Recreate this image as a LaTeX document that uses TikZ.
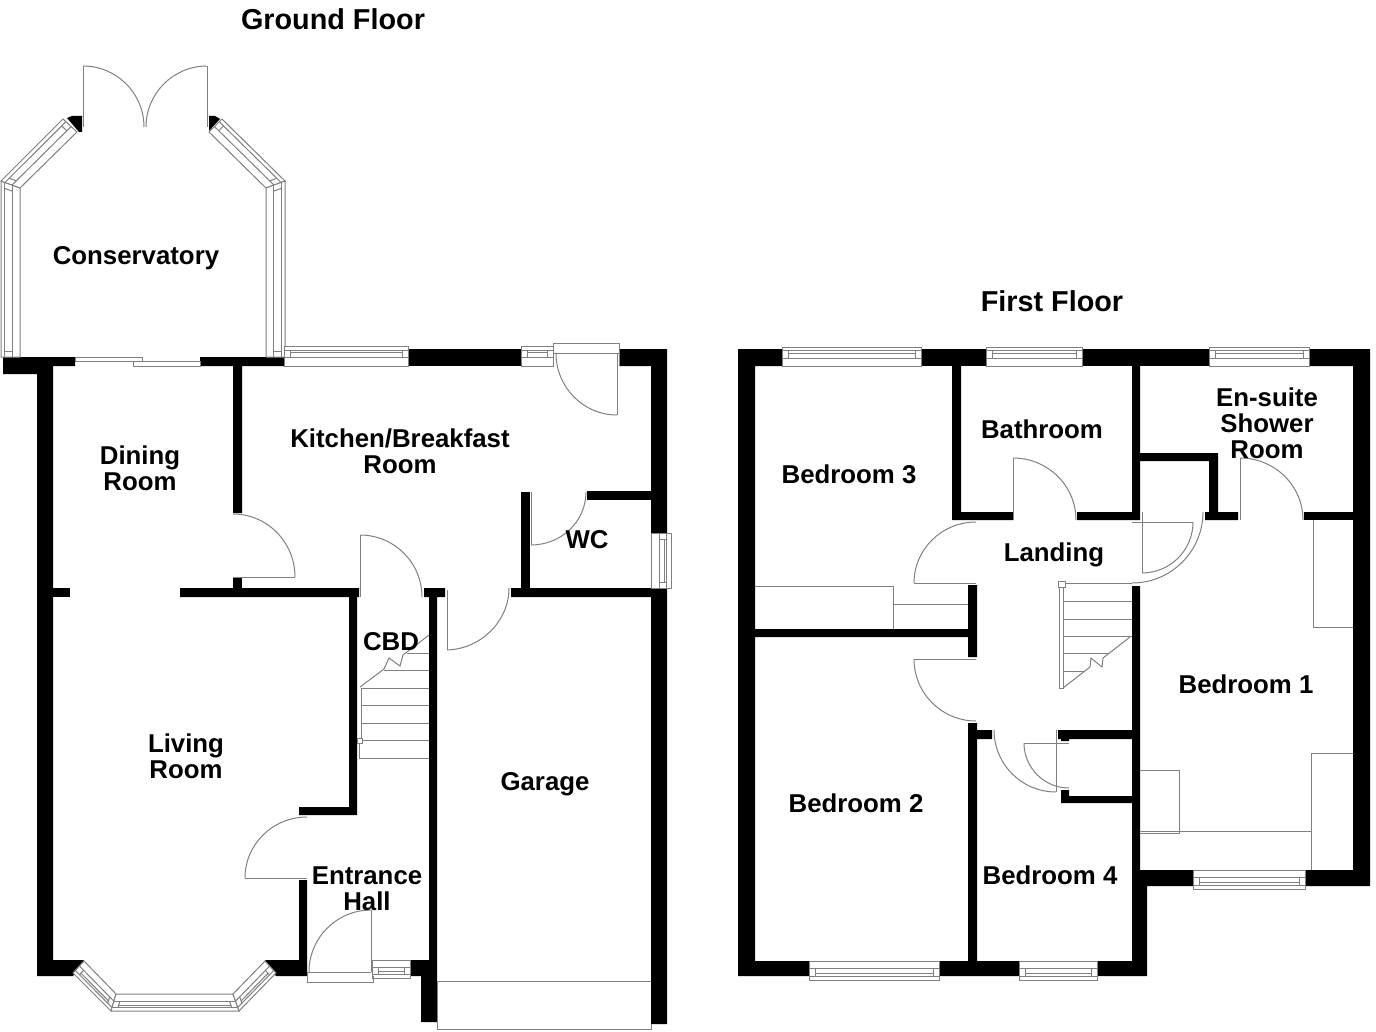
\documentclass[tikz,border=0pt]{standalone}
\usepackage{fontspec}
\setmainfont{Liberation Sans}
\usetikzlibrary{calc}
\tikzset{
    wall/.style={fill=black},
    thinline/.style={draw=black!50,line width=0.5pt},
    room/.style={font=\bfseries\fontsize{12.9}{13}\selectfont,align=center,inner sep=0pt},
    floortitle/.style={font=\bfseries\fontsize{14.4}{15}\selectfont,inner sep=0pt}
}
% quarter swing: from #2 to #3 around the hinge #1
\newcommand{\swing}[3]{\draw[thinline] (#2) .. controls ($(#2)+.5523*(#3)-.5523*(#1)$) and ($(#3)+.5523*(#2)-.5523*(#1)$) .. (#3);}
\newcommand{\door}[3]{\draw[thinline] (#1)--(#2); \swing{#1}{#2}{#3}}
% window: inner side #1 #2, outer side #4 #3
\newcommand{\winframe}[4]{%
    \draw[thinline,fill=white] (#1)--(#2)--(#3)--(#4)--cycle;
    \draw[thinline] ($(#1)!.42!(#4)$)--($(#2)!.42!(#3)$);
    \draw[thinline] ($(#1)!.79!(#4)$)--($(#2)!.79!(#3)$);
    \coordinate (wa) at ($(#1)!.42!(#4)$);
    \coordinate (wb) at ($(#2)!.42!(#3)$);
    \coordinate (wc) at ($(#2)!.79!(#3)$);
    \coordinate (wd) at ($(#1)!.79!(#4)$);
    \draw[thinline] ($(wa)!3pt!(wb)$)--($(wd)!3pt!(wc)$);
    \draw[thinline] ($(wb)!3pt!(wa)$)--($(wc)!3pt!(wd)$);
}
\newcommand{\win}[4]{%
    \winframe{#1}{#2}{#3}{#4}
    \coordinate (we) at ($(#1)!.66!(#4)$);
    \coordinate (wf) at ($(#2)!.66!(#3)$);
    \draw[thinline] ($(we)!3pt!(wf)$)--($(wf)!3pt!(we)$);
}
\begin{document}
\begin{tikzpicture}[x=0.5pt,y=-0.5pt]
    \useasboundingbox (0,0) rectangle (1376,1032);

    % ground floor walls
    \fill[wall] (3,357)--(75,357)--(75,366)--(53,366)--(53,960)--(84,960)--(73,976)--(37,976)--(37,374)--(3,374)--cycle;
    \fill[wall] (299,880)--(307,880)--(307,976)--(276,976)--(265,960)--(299,960)--cycle;
    \fill[wall] (424,588)--(445,588)--(445,597)--(437,597)--(437,1022)--(421,1022)--(421,976)--(410,976)--(410,960)--(429,960)--(429,597)--(424,597)--cycle;
    \fill[wall] (53,588) rectangle (70,597);
    \fill[wall] (180,588)--(359,588)--(359,597)--(357,597)--(357,815)--(299,815)--(299,807)--(349,807)--(349,597)--(180,597)--cycle;
    \fill[wall] (233,578) rectangle (242,588);
    \fill[wall] (200,357)--(284,357)--(284,366)--(242,366)--(242,513)--(233,513)--(233,366)--(200,366)--cycle;
    \fill[wall] (408,349) rectangle (521,366);
    \fill[wall] (619,349)--(667,349)--(667,533)--(651,533)--(651,366)--(619,366)--cycle;
    \fill[wall] (511,588)--(667,588)--(667,1024)--(651,1024)--(651,597)--(511,597)--cycle;
    \fill[wall] (521,492) rectangle (530,588);
    \fill[wall] (587,491) rectangle (651,500);

    % first floor walls
    \fill[wall] (738,349)--(782,349)--(782,366)--(755,366)--(755,961)--(809,961)--(809,976)--(738,976)--cycle;
    \fill[wall] (921,349) rectangle (986,366);
    \fill[wall] (1082,349) rectangle (1209,366);
    \fill[wall] (1309,349)--(1370,349)--(1370,886)--(1305,886)--(1305,870)--(1353,870)--(1353,366)--(1309,366)--cycle;
    \fill[wall] (952,366)--(961,366)--(961,512)--(1013,512)--(1013,520)--(952,520)--cycle;
    \fill[wall] (1132,366)--(1140,366)--(1140,453)--(1218,453)--(1218,512)--(1238,512)--(1238,520)--(1205,520)--(1205,512)--(1209,512)--(1209,461)--(1140,461)--(1140,520)--(1077,520)--(1077,512)--(1132,512)--cycle;
    \fill[wall] (1304,512) rectangle (1353,520);
    \fill[wall] (1132,586)--(1140,586)--(1140,870)--(1193,870)--(1193,886)--(1147,886)--(1147,976)--(1097,976)--(1097,961)--(1132,961)--cycle;
    \fill[wall] (755,629)--(968,629)--(968,585)--(977,585)--(977,657)--(968,657)--(968,637)--(755,637)--cycle;
    \fill[wall] (968,723)--(977,723)--(977,730)--(992,730)--(992,739)--(977,739)--(977,961)--(1019,961)--(1019,976)--(939,976)--(939,961)--(968,961)--cycle;
    \fill[wall] (1058,730)--(1132,730)--(1132,739)--(1069,739)--(1069,741)--(1061,741)--(1061,739)--(1058,739)--cycle;
    \fill[wall] (1061,790)--(1069,790)--(1069,796)--(1132,796)--(1132,803)--(1061,803)--cycle;

    % conservatory
    \fill[wall] (67,118)--(72,116)--(82,116)--(82,132)--(79,132)--cycle;
    \fill[wall] (209,116)--(215,116)--(220,119)--(209,131)--cycle;
    \winframe{20,357}{20,188}{1,181}{1,357}
    \winframe{20,188}{77,132}{63,119}{1,181}
    \winframe{209,132}{266,188}{285,181}{222,119}
    \winframe{266,188}{266,357}{285,357}{285,181}
    \door{83,127}{83,66}{144,127}
    \door{207,127}{207,66}{146,127}
    \draw[thinline,fill=white] (75,357) rectangle (142,361);
    \draw[thinline,fill=white] (133,361) rectangle (200,366);

    % ground floor windows
    \win{284,366}{408,366}{408,346}{284,346}
    \win{521,366}{553,366}{553,346}{521,346}
    \win{651,533}{651,588}{671,588}{671,533}
    \win{372,960}{410,960}{410,978}{372,978}
    \win{84,961}{116,994}{111,1011}{73,973}
    \win{116,994}{233,994}{239,1011}{111,1011}
    \win{233,994}{265,961}{276,973}{239,1011}

    % ground floor doors
    \door{233,577}{295,577}{233,514}
    \door{360,597}{360,535}{422,597}
    \door{447,590}{447,650}{509,588}
    \door{531,492}{531,545}{586,492}
    \door{617,353}{617,415}{556,353}
    \door{307,878}{245,878}{307,817}
    \door{371,972}{371,910}{309,972}
    \draw[thinline] (553,366)--(553,343)--(619,343)--(619,366);
    \draw[thinline] (553,353)--(619,353);
    \draw[thinline] (307,972)--(371,972);
    \draw[thinline] (307,972)--(307,982)--(373,982)--(373,976);

    % ground floor stairs
    \foreach \treadY in {688,705,723,740} \draw[thinline] (361,\treadY)--(429,\treadY);
    \draw[thinline] (384,670)--(429,670);
    \draw[thinline] (407,653)--(429,653);
    \draw[thinline] (360,687)--(384,669)--(389,658)--(400,666)--(403,655)--(429,635);
    \draw[thinline] (361,688)--(361,740);
    \draw[thinline] (359,743)--(359,758)--(429,758);
    \draw[thinline,fill=white] (357,738) rectangle (362,743);

    % garage door
    \draw[thinline] (437,981)--(651,981);
    \draw[thinline] (437,981)--(437,1029)--(651,1029)--(651,1024);

    % first floor windows
    \win{782,366}{921,366}{921,347}{782,347}
    \win{986,366}{1082,366}{1082,347}{986,347}
    \win{1209,366}{1309,366}{1309,347}{1209,347}
    \win{1193,870}{1305,870}{1305,889}{1193,889}
    \win{809,961}{939,961}{939,980}{809,980}
    \win{1019,961}{1097,961}{1097,980}{1019,980}

    % first floor doors
    \door{1013,520}{1013,458}{1076,520}
    \door{976,583}{914,583}{976,522}
    \door{976,659}{914,659}{976,721}
    \door{1056,730}{1056,792}{994,730}
    \door{1069,743}{1024,743}{1069,788}
    \door{1142,522}{1193,522}{1142,573}
    \draw[thinline] (1142,512)--(1142,573);
    \draw[thinline] (1132,522)--(1142,522);
    \swing{1132,512}{1203,512}{1132,583}
    \door{1240,520}{1240,458}{1303,520}

    % first floor stairs
    \foreach \treadY in {583,601,619,636} \draw[thinline] (1064,\treadY)--(1132,\treadY);
    \draw[thinline] (1064,653)--(1108,653);
    \draw[thinline] (1064,671)--(1084,671);
    \draw[thinline] (1063,688)--(1090,667)--(1091,658)--(1102,667)--(1103,658)--(1130,637);
    \draw[thinline] (1059,587)--(1059,688)--(1063,688)--(1063,587);
    \draw[thinline,fill=white] (1058,581) rectangle (1065,587);

    % fitted cupboards
    \draw[thinline] (755,586)--(893,586)--(893,629);
    \draw[thinline] (893,604)--(968,604);
    \draw[thinline] (1313,520)--(1313,627)--(1353,627);
    \draw[thinline] (1353,753)--(1311,753)--(1311,870);
    \draw[thinline] (1140,831)--(1311,831);
    \draw[thinline] (1140,770)--(1179,770)--(1179,833)--(1140,833);

    % labels
    \node[floortitle] (groundtitle) at (333,19) {Ground Floor};
    \node[floortitle] (firsttitle) at (1052,301) {First Floor};
    \node[room] (conservatory) at (136,258) {Conservatory};
    \node[room] (kitchen) at (400,451) {Kitchen/Breakfast\\Room};
    \node[room] (dining) at (140,468) {Dining\\Room};
    \node[room] (wc) at (587,540) {WC};
    \node[room] (cbd) at (391,642) {CBD};
    \node[room] (living) at (186,756) {Living\\Room};
    \node[room] (garage) at (545,784) {Garage};
    \node[room] (hall) at (367,889) {Entrance\\Hall};
    \node[room] (bedthree) at (849,474) {Bedroom 3};
    \node[room] (bathroom) at (1042,429) {Bathroom};
    \node[room] (ensuite) at (1267,423) {En-suite\\Shower\\Room};
    \node[room] (landing) at (1054,555) {Landing};
    \node[room] (bedone) at (1246,684) {Bedroom 1};
    \node[room] (bedtwo) at (856,803) {Bedroom 2};
    \node[room] (bedfour) at (1050,875) {Bedroom 4};
\end{tikzpicture}
\end{document}
